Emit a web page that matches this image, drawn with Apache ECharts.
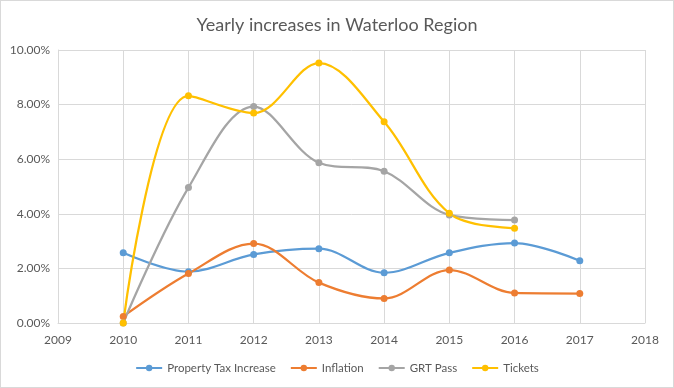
<!DOCTYPE html>
<html><head><meta charset="utf-8">
<script src="https://cdn.jsdelivr.net/npm/echarts@6/dist/echarts.min.js"></script>
<style>html,body{margin:0;padding:0;background:#fff}#c{width:674px;height:388px;box-sizing:border-box;border:1px solid #d9d9d9}</style>
</head><body><div id="c"></div>
<script>
const years = [2010, 2011, 2012, 2013, 2014, 2015, 2016, 2017];
const propertyTax = [2.57, 1.88, 2.51, 2.72, 1.84, 2.57, 2.93, 2.28];
const inflation = [0.24, 1.81, 2.91, 1.48, 0.90, 1.94, 1.10, 1.08];
const grtPass = [0.00, 4.96, 7.93, 5.87, 5.56, 3.96, 3.77];
const tickets = [0.00, 8.32, 7.69, 9.52, 7.37, 4.02, 3.47];
const seriesNames = ['Property Tax Increase', 'Inflation', 'GRT Pass', 'Tickets'];
const colors = ['#5B9BD5', '#ED7D31', '#A5A5A5', '#FFC000'];
const allData = [propertyTax, inflation, grtPass, tickets];

const font = 'Lato, "Open Sans", sans-serif';
const chart = echarts.init(document.getElementById('c'));
chart.setOption({
  animation: false,
  color: colors,
  title: {text: 'Yearly increases in Waterloo Region', left: 'center', top: 10,
    textStyle: {fontFamily: font, fontSize: 18, fontWeight: 'normal', color: '#595959'}},
  grid: {left: 57, right: 28, top: 49, bottom: 64},
  xAxis: {type: 'value', min: 2009, max: 2018, interval: 1,
    axisLine: {lineStyle: {color: '#d9d9d9'}}, axisTick: {show: false},
    splitLine: {show: true, lineStyle: {color: '#d9d9d9'}},
    axisLabel: {color: '#595959', fontFamily: font, fontSize: 12, margin: 11,
      formatter: v => String(v)}},
  yAxis: {type: 'value', min: 0, max: 10, interval: 2,
    axisLine: {show: true, lineStyle: {color: '#d9d9d9'}}, axisTick: {show: false},
    splitLine: {lineStyle: {color: '#d9d9d9'}},
    axisLabel: {color: '#595959', fontFamily: font, fontSize: 12, margin: 8,
      formatter: v => v.toFixed(2) + '%'}},
  legend: {bottom: 8, left: 'center', itemWidth: 26, itemHeight: 8, itemGap: 14,
    textStyle: {color: '#595959', fontFamily: font, fontSize: 11.5}},
  series: allData.map((arr, i) => ({
    name: seriesNames[i], type: 'line', smooth: 0.35,
    data: arr.map((v, j) => [years[j], v]),
    symbol: 'circle', symbolSize: 7,
    lineStyle: {width: 2.25, color: colors[i]},
    itemStyle: {color: colors[i]}
  }))
});
</script></body></html>
